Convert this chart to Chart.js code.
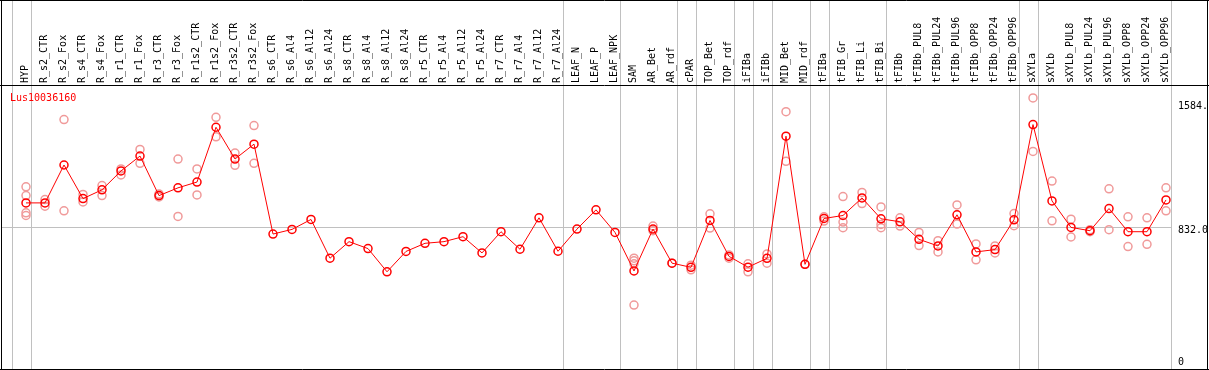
<!DOCTYPE html>
<html>
<head>
<meta charset="utf-8">
<script src="https://cdn.jsdelivr.net/npm/chart.js@4"></script>
<style>
  body { margin: 0; background: #fff; }
  #wrap { width: 1209px; height: 370px; position: relative; }
</style>
</head>
<body>
<div id="wrap"><canvas id="main-canvas"></canvas></div>
<script>
// sample names (x categories)
const labels = [
    'HYP', 'R_s2_CTR', 'R_s2_Fox', 'R_s4_CTR', 'R_s4_Fox', 'R_r1_CTR', 'R_r1_Fox',
    'R_r3_CTR', 'R_r3_Fox', 'R_r1s2_CTR', 'R_r1s2_Fox', 'R_r3s2_CTR', 'R_r3s2_Fox',
    'R_s6_CTR', 'R_s6_Al4', 'R_s6_Al12', 'R_s6_Al24', 'R_s8_CTR', 'R_s8_Al4', 'R_s8_Al12',
    'R_s8_Al24', 'R_r5_CTR', 'R_r5_Al4', 'R_r5_Al12', 'R_r5_Al24', 'R_r7_CTR', 'R_r7_Al4',
    'R_r7_Al12', 'R_r7_Al24', 'LEAF_N', 'LEAF_P', 'LEAF_NPK', 'SAM', 'AR_Bet', 'AR_rdf',
    'cPAR', 'TOP_Bet', 'TOP_rdf', 'iFIBa', 'iFIBb', 'MID_Bet', 'MID_rdf', 'tFIBa',
    'tFIB_Gr', 'tFIB_Li', 'tFIB_Bi', 'tFIBb', 'tFIBb_PUL8', 'tFIBb_PUL24', 'tFIBb_PUL96',
    'tFIBb_OPP8', 'tFIBb_OPP24', 'tFIBb_OPP96', 'sXYLa', 'sXYLb', 'sXYLb_PUL8',
    'sXYLb_PUL24', 'sXYLb_PUL96', 'sXYLb_OPP8', 'sXYLb_OPP24', 'sXYLb_OPP96'
];

// mean expression per sample
const meanValues = [
    976, 976, 1205, 1002, 1055, 1169, 1259, 1020, 1067, 1102, 1433, 1241, 1331,
    788, 816, 876, 642, 742, 700, 560, 683, 732, 742, 772, 674, 802, 696, 886, 684,
    818, 934, 798, 565, 818, 612, 587, 870, 653, 588, 641, 1379, 605, 882,
    900, 1006, 880, 862, 756, 716, 904, 680, 694, 874, 1449, 988, 828,
    808, 942, 802, 802, 994
];

// individual replicates per sample
const replicateValues = [
    [1073, 1020, 916, 900], [996, 956], [1479, 928], [1027, 982], [1081, 1020],
    [1181, 1145], [1299, 1215], [1030, 1012], [1241, 894], [1181, 1024], [1493, 1375],
    [1277, 1203], [1443, 1215],
    [], [], [], [], [], [], [], [], [], [], [], [], [], [], [], [],
    [], [], [],
    [642, 626, 608, 359], [836, 808], [612], [600, 572], [910, 824], [662, 642],
    [608, 560], [668, 612], [1527, 1227], [605], [892, 866],
    [1014, 860, 826], [1039, 972], [952, 846, 826], [886, 836], [798, 718],
    [748, 680], [964, 848], [728, 632], [716, 674], [912, 838], [1610, 1287],
    [1108, 868], [878, 770], [814, 802], [1061, 814], [892, 712], [886, 726],
    [1067, 928]
];

// last sample index of each tissue group (vertical separators)
const groupEnds = [-1, 0, 28, 31, 34, 35, 37, 38, 39, 41, 42, 45, 52, 53, 60];

const yTicks = [0, 832, 1584];
const yTickText = ['0', '832.0', '1584.'];
const geneName = 'Lus10036160';

const FONT = '10px "DejaVu Sans Mono", monospace';

const repPoints = [];
replicateValues.forEach((reps, i) => {
    reps.forEach(v => repPoints.push({ x: labels[i], y: v }));
});

const framePlugin = {
    id: 'frame',
    beforeDatasetsDraw: chart => {
        const ctx = chart.ctx;
        const xs = chart.scales.x;
        const ys = chart.scales.y;
        const step = xs.getPixelForValue(1) - xs.getPixelForValue(0);
        ctx.save();
        ctx.lineWidth = 1;

        // group separators
        ctx.strokeStyle = '#c0c0c0';
        groupEnds.forEach(i => {
            const x = Math.round(xs.getPixelForValue(0) + i * step + 4.5) + 0.5;
            ctx.beginPath();
            ctx.moveTo(x, 0);
            ctx.lineTo(x, chart.height);
            ctx.stroke();
        });

        // gridline at 832
        const lastSep = Math.round(xs.getPixelForValue(0) + 60 * step + 4.5) + 0.5;
        const gy = Math.round(ys.getPixelForValue(yTicks[1])) + 0.5;
        ctx.beginPath();
        ctx.moveTo(1, gy);
        ctx.lineTo(lastSep, gy);
        ctx.stroke();

        // frame + header divider
        ctx.strokeStyle = '#000';
        ctx.beginPath();
        ctx.moveTo(1.5, 0); ctx.lineTo(1.5, chart.height);
        ctx.moveTo(0, 0.5); ctx.lineTo(chart.width, 0.5);
        ctx.moveTo(0, 85.5); ctx.lineTo(chart.width, 85.5);
        ctx.moveTo(0, chart.height - 0.5); ctx.lineTo(chart.width, chart.height - 0.5);
        ctx.moveTo(1207.5, 0); ctx.lineTo(1207.5, chart.height);
        ctx.stroke();

        // rotated sample names
        ctx.font = FONT;
        ctx.fillStyle = '#000';
        ctx.textAlign = 'left';
        ctx.textBaseline = 'middle';
        labels.forEach((lab, i) => {
            ctx.save();
            ctx.translate(xs.getPixelForValue(i) - 1, 83);
            ctx.rotate(-Math.PI / 2);
            ctx.fillText(lab, 0, 0);
            ctx.restore();
        });

        // y labels on the right
        yTicks.forEach((v, i) => {
            const y = Math.min(ys.getPixelForValue(v) + 4, 362);
            ctx.fillText(yTickText[i], 1178, y);
        });

        // gene name
        ctx.fillStyle = '#ff0000';
        ctx.textBaseline = 'alphabetic';
        ctx.fillText(geneName, 10, 101);
        ctx.restore();
    }
};

const myChart = new Chart(document.getElementById('main-canvas'), {
    type: 'line',
    plugins: [framePlugin],
    data: {
        labels: labels,
        datasets: [{
            label: 'mean',
            data: meanValues,
            borderColor: '#ff0000',
            borderWidth: 1,
            pointRadius: 4,
            pointBorderWidth: 1.5,
            pointBorderColor: '#ff0000',
            pointBackgroundColor: 'rgba(0,0,0,0)',
            fill: false,
            tension: 0,
            clip: false
        },
        {
            label: 'replicates',
            data: repPoints,
            showLine: false,
            pointRadius: 4,
            pointBorderWidth: 1.5,
            pointBorderColor: '#f09a9a',
            pointBackgroundColor: 'rgba(0,0,0,0)',
            clip: false
        }]
    },
    options: {
        responsive: true,
        maintainAspectRatio: false,
        animation: false,
        layout: { padding: { left: 26, right: 43, top: 88, bottom: 3 } },
        plugins: {
            legend: { display: false },
            tooltip: { enabled: false }
        },
        scales: {
            x: { type: 'category', offset: false, display: false },
            y: { min: 0, max: 1670, display: false }
        }
    }
});
</script>
</body>
</html>
